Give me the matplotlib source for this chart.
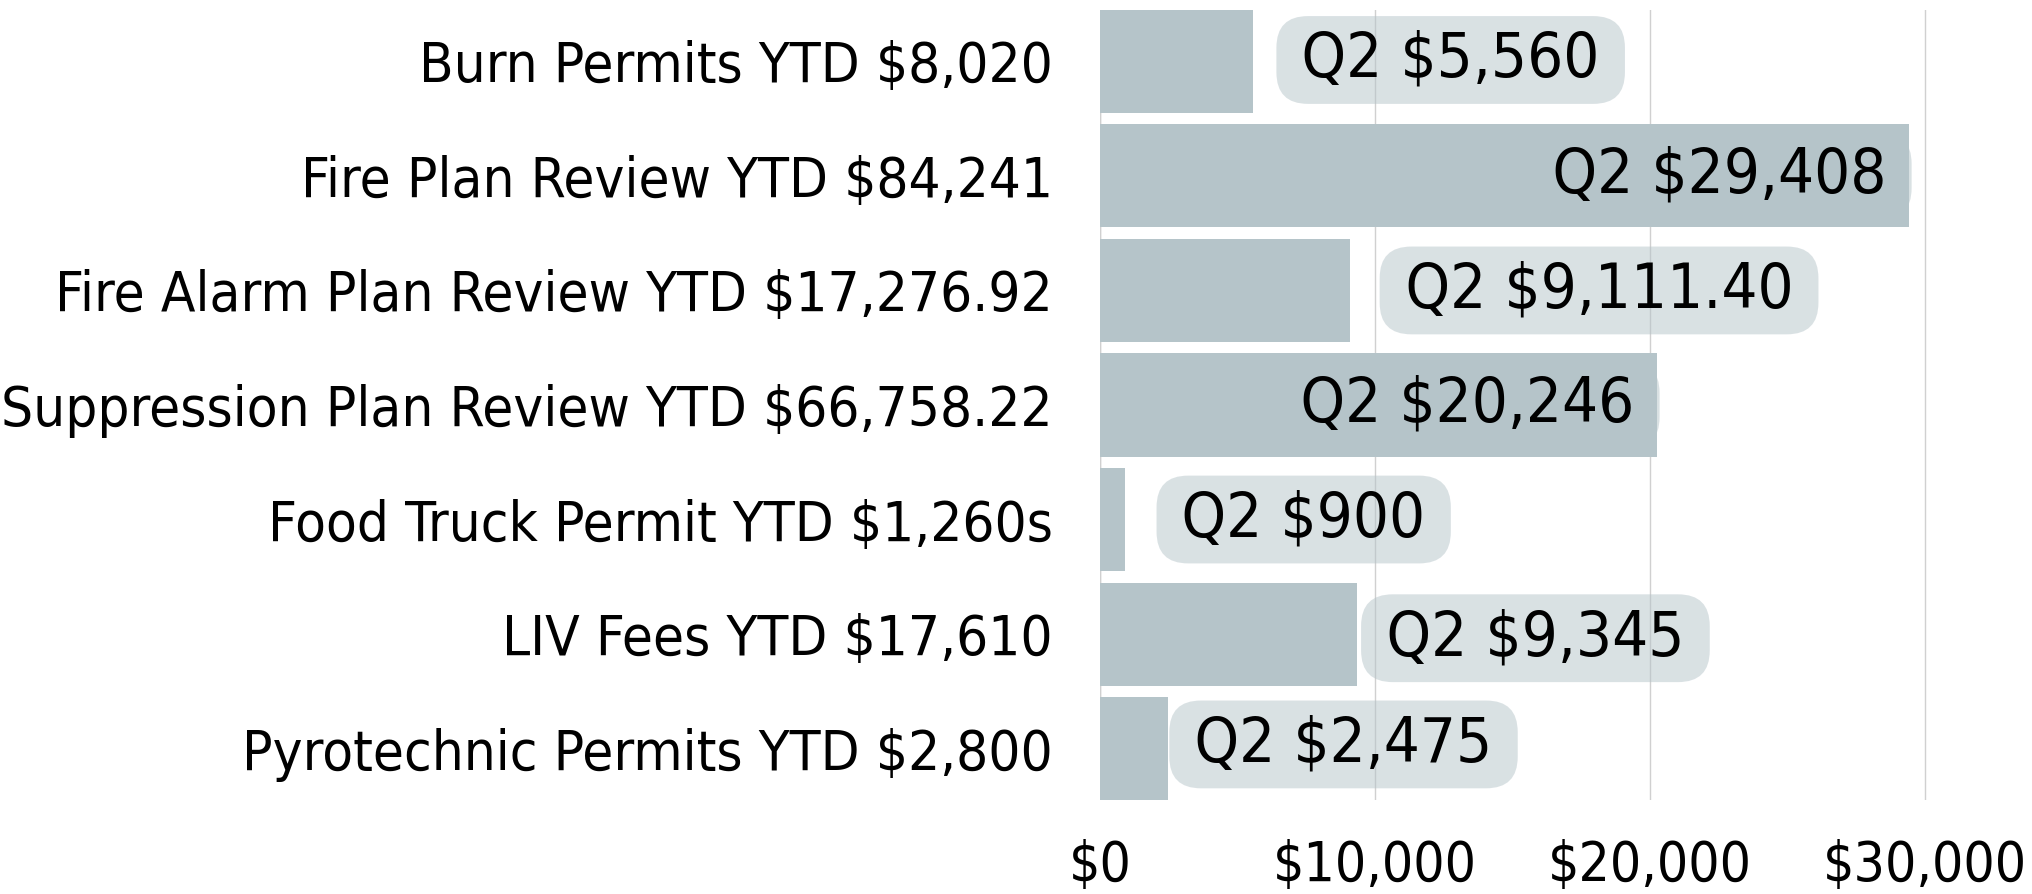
import matplotlib
matplotlib.use("Agg")
import matplotlib.pyplot as plt
from matplotlib.ticker import FuncFormatter

categories = [
    "Burn Permits YTD $8,020",
    "Fire Plan Review YTD $84,241",
    "Fire Alarm Plan Review YTD $17,276.92",
    "Suppression Plan Review YTD $66,758.22",
    "Food Truck Permit YTD $1,260s",
    "LIV Fees YTD $17,610",
    "Pyrotechnic Permits YTD $2,800",
]
q2_values = [5560, 29408, 9111.40, 20246, 900, 9345, 2475]
q2_labels = ["Q2 $5,560", "Q2 $29,408", "Q2 $9,111.40", "Q2 $20,246",
             "Q2 $900", "Q2 $9,345", "Q2 $2,475"]
x_ticks = [0, 10000, 20000, 30000]

# label placement offsets (points): horizontal, vertical
label_dx = [27, -8, 31, -8, 33, 13, 11]
label_dy = [1, 0, 0, 0, 0, -3, 3]

plt.rcParams["font.family"] = ["DejaVu Sans"]
plt.rcParams["font.stretch"] = "condensed"

FS = 40.5
FS_TICK = 39.5
FS_LAB = 45.5
bar_color = "#b5c4c9"

fig = plt.figure(figsize=(20.33, 8.94), dpi=100)
ax = fig.add_axes([0.541, 0.105, 0.433, 0.884])

ypos = list(range(len(categories)))
ax.barh(ypos, q2_values, height=0.9, color=bar_color, zorder=2)

ax.set_ylim(len(categories) - 0.55, -0.45)
ax.set_xlim(0, 32000)
ax.set_yticks(ypos)
ax.set_yticklabels(categories, fontsize=FS, stretch="condensed")
ax.set_xticks(x_ticks)
ax.xaxis.set_major_formatter(FuncFormatter(lambda v, p: "${:,.0f}".format(v)))
for lab in ax.get_xticklabels():
    lab.set_fontsize(FS_TICK)
    lab.set_fontstretch("condensed")
ax.tick_params(axis="y", length=0, pad=34)
ax.tick_params(axis="x", length=0, pad=28)
for s in ax.spines.values():
    s.set_visible(False)
ax.grid(axis="x", color="#d0d0d0", linewidth=1.0, zorder=0)
ax.set_axisbelow(True)
ax.axvline(0, color="#d0d0d0", linewidth=1.0, zorder=1)

box = dict(boxstyle="round,pad=0.22,rounding_size=0.5", facecolor=bar_color,
           alpha=0.5, edgecolor="none")
TS = "\u2009"
for y, v, t, dx, dy in zip(ypos, q2_values, q2_labels, label_dx, label_dy):
    txt = TS + t + TS
    ax.annotate(txt, xy=(v, y), xytext=(dx, dy), textcoords="offset points",
                ha="right" if dx < 0 else "left", va="center",
                fontsize=FS_LAB, stretch="condensed", bbox=box, zorder=3)

fig.savefig("out.png", dpi=100)
